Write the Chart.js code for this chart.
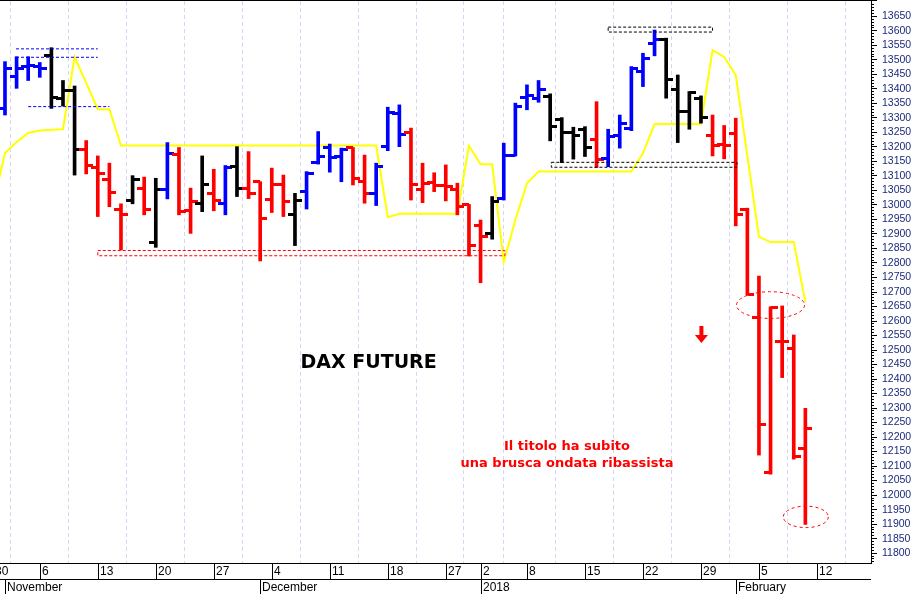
<!DOCTYPE html>
<html>
<head>
<meta charset="utf-8">
<title>DAX FUTURE</title>
<script src="https://cdn.jsdelivr.net/npm/chart.js@4.4.1/dist/chart.umd.min.js"></script>
<style>
html,body{margin:0;padding:0;background:#ffffff;overflow:hidden;}
canvas{display:block;}
</style>
</head>
<body>
<canvas id="chart" width="920" height="594"></canvas>
<script>
// ---------- DATA ----------
const tradingDays = [
 '2017-10-30',
 '2017-11-01','2017-11-02','2017-11-03',
 '2017-11-06','2017-11-07','2017-11-08','2017-11-09','2017-11-10',
 '2017-11-13','2017-11-14','2017-11-15','2017-11-16','2017-11-17',
 '2017-11-20','2017-11-21','2017-11-22','2017-11-23','2017-11-24',
 '2017-11-27','2017-11-28','2017-11-29','2017-11-30','2017-12-01',
 '2017-12-04','2017-12-05','2017-12-06','2017-12-07','2017-12-08',
 '2017-12-11','2017-12-12','2017-12-13','2017-12-14','2017-12-15',
 '2017-12-18','2017-12-19','2017-12-20','2017-12-21','2017-12-22',
 '2017-12-27','2017-12-28','2017-12-29',
 '2018-01-02','2018-01-03','2018-01-04','2018-01-05',
 '2018-01-08','2018-01-09','2018-01-10','2018-01-11','2018-01-12',
 '2018-01-15','2018-01-16','2018-01-17','2018-01-18','2018-01-19',
 '2018-01-22','2018-01-23','2018-01-24','2018-01-25','2018-01-26',
 '2018-01-29','2018-01-30','2018-01-31','2018-02-01','2018-02-02',
 '2018-02-05','2018-02-06','2018-02-07','2018-02-08','2018-02-09',
 '2018-02-12','2018-02-13','2018-02-14','2018-02-15','2018-02-16'
];

const openVals = [null,
 13333,13442,13476,13476,13514,13368,13394,13192,13130,13089,
 12985,13017,13058,12871,13055,13175,12980,13006,13040,13004,
 13132,13058,13080,13020,13069,12968,13046,13148,13198,13167,
 13198,13080,13040,13201,13316,13249,13054,13077,13066,13054,
 13000,12928,12902,13021,13172,13371,13366,13373,13293,13249,
 13261,13227,13159,13238,13265,13460,13555,13571,13399,13322,
 13368,13241,13207,13247,12985,12613,12077,12531,12504,12161,
 null,null,null,null,null];

const highVals = [null,
 13494,13511,13511,13491,13542,13429,13410,13222,13169,13144,
 13004,13101,13096,13092,13215,13198,13058,13169,13123,13136,
 13201,13184,13080,13127,13103,13040,13115,13253,13210,13196,
 13198,13172,13144,13337,13345,13265,13144,13111,13138,13075,
 13002,12948,13029,13213,13351,13414,13429,13383,13301,13268,
 13270,13356,13261,13310,13477,13523,13603,13575,13448,13391,
 13376,13310,13274,13299,12989,12755,12649,12652,12552,12299,
 null,null,null,null,null];

const lowVals = [null,
 13310,13402,13429,13440,13333,13341,13103,13107,12960,12994,
 12845,13004,12966,12854,13021,12966,12902,12977,12980,12966,
 13029,13022,12807,12974,12960,12860,12986,13141,13113,13080,
 13069,13006,12998,13187,13201,13017,13008,13046,13014,12966,
 12824,12732,12882,13017,13169,13328,13354,13221,13146,13158,
 13167,13129,13132,13196,13256,13408,13514,13368,13215,13261,
 13282,13169,13159,12928,12690,12138,12072,12405,12124,11899,
 null,null,null,null,null];

const closeVals = [null,
 13471,13471,13479,13472,13371,13394,13192,13135,13109,13044,
 12966,13089,12983,13055,13176,12977,13011,13071,13015,13129,
 13058,13038,12954,13069,13011,13017,13107,13166,13165,13192,
 13090,13040,13132,13320,13244,13069,13075,13066,13064,12993,
 12859,12891,13011,13172,13341,13376,13399,13272,13249,13238,
 13198,13155,13236,13282,13471,13506,13569,13433,13322,13386,
 13302,13204,13205,12966,12693,12244,12647,12528,12132,12228,
 null,null,null,null,null];

// trend state of each bar: B = rialzo (blu), K = neutro (nero), R = ribasso (rosso)
const trendState = [null,
 'B','B','B','B','K','K','K','R','R','R',
 'R','K','R','K','B','R','R','K','R','B',
 'K','R','R','R','R','K','B','B','B','B',
 'R','R','B','B','B','R','R','R','R','R',
 'R','R','K','B','B','B','B','K','K','K',
 'K','R','B','B','B','B','B','K','K','K',
 'K','R','R','R','R','R','R','R','R','R',
 null,null,null,null,null];

const trendLine = [13004,
 13179,13217,13248,13257,13259,13261,13510,13421,13330,13330,
 13205,13205,13205,13205,13205,13205,13205,13205,13205,13205,
 13205,13205,13205,13205,13205,13205,13205,13205,13205,13205,
 13205,13205,13205,12958,12970,12970,12970,12970,12970,12970,
 13204,13140,13140,12804,12948,13075,13115,13115,13115,13115,
 13115,13115,13115,13115,13115,13178,13279,13279,13279,13279,
 13279,13534,13510,13448,13169,12890,12872,12872,12872,12666,
 null,null,null,null,null];

const yTicks = [11800,11850,11900,11950,12000,12050,12100,12150,12200,12250,
 12300,12350,12400,12450,12500,12550,12600,12650,12700,12750,
 12800,12850,12900,12950,13000,13050,13100,13150,13200,13250,
 13300,13350,13400,13450,13500,13550,13600,13650];

const weekTickLabels = ['30','6','13','20','27','4','11','18','27','2','8','15','22','29','5','12'];
const monthTickLabels = ['November','December','2018','February'];

// levels drawn on the chart (from index, to index, upper level, lower level)
const resistanceBox = [9.0, 44.1, 12843, 12825];
const topBox = [53.0, 62.0, 13613, 13596];
const supportBox = [48.1, 64.1, 13147, 13130];
const blueLevels = [[1.95, 9.0, 13538], [1.95, 9.0, 13509], [3.0, 10.0, 13339]];

const ellipseMarks = [
  {at: 67.0, level: 12655, halfSpan: 2.93, halfRange: 46},
  {at: 70.04, level: 11925, halfSpan: 1.94, halfRange: 37}
];
const arrowMark = {at: 61.04, from: 12583, to: 12524};
const textNotes = [
  {text: 'DAX FUTURE', at: 32.35, level: 12437, kind: 'title'},
  {text: 'Il titolo ha subito', at: 49.45, level: 12155, kind: 'note'},
  {text: 'una brusca ondata ribassista', at: 49.45, level: 12098, kind: 'note'}
];

// ---------- DERIVED ----------
function dayParts(s) { const p = s.split('-').map(Number); return {y: p[0], m: p[1], d: p[2], wd: new Date(Date.UTC(p[0], p[1]-1, p[2])).getUTCDay()}; }
const parts = tradingDays.map(dayParts);
const weekStarts = [];
const monthStarts = [];
parts.forEach((p, i) => {
  if (i === 0 || p.wd < parts[i-1].wd) weekStarts.push(i);
  if (i > 0 && p.m !== parts[i-1].m) monthStarts.push(i);
});

const COLORS = {B: '#0000ff', K: '#000000', R: '#ff0000'};
function tickImage(color, side) {
  const c = document.createElement('canvas');
  c.width = 14; c.height = 3;
  const g = c.getContext('2d');
  g.fillStyle = color;
  g.fillRect(side === 'L' ? 0 : 7, 0, 7, 3);
  return c;
}
const tickImgs = {};
Object.keys(COLORS).forEach(k => { tickImgs[k] = {L: tickImage(COLORS[k], 'L'), R: tickImage(COLORS[k], 'R')}; });

const barData = [], openData = [], closeData = [];
tradingDays.forEach((d, i) => {
  if (highVals[i] == null) return;
  barData.push({x: i, y: [lowVals[i], highVals[i]], t: trendState[i]});
  openData.push({x: i, y: openVals[i], t: trendState[i]});
  closeData.push({x: i, y: closeVals[i], t: trendState[i]});
});
const trendData = [];
trendLine.forEach((v, i) => { if (v != null) trendData.push({x: i, y: v}); });

function boxPath(b) {
  return [{x: b[0], y: b[2]}, {x: b[1], y: b[2]}, {x: b[1], y: b[3]}, {x: b[0], y: b[3]}, {x: b[0], y: b[2]}];
}
function dashed(data, color) {
  return {type: 'line', data: data, borderColor: color, borderWidth: 1, borderDash: [3, 2],
          pointRadius: 0, fill: false, tension: 0, order: 0};
}

const X_MIN = 0.57, X_MAX = 75.66, Y_MIN = 11766, Y_MAX = 13703;

// ---------- PLUGINS ----------
const axisChrome = {
  id: 'axisChrome',
  afterDraw(chart) {
    const {ctx, chartArea: a, scales: {x, y}} = chart;
    ctx.save();
    ctx.fillStyle = '#000000';
    ctx.fillRect(0, 0, a.right + 6, 1);
    ctx.fillRect(0, a.bottom, a.right, 1);
    ctx.fillRect(0, a.bottom + 16, a.right, 1);
    for (let v = Math.ceil(Y_MIN / 10) * 10; v <= Y_MAX; v += 10) {
      if (v % 50 === 0) continue;
      const py = Math.floor(y.getPixelForValue(v));
      ctx.fillRect(a.right, py, 3, 1);
    }
    ctx.font = '12px "Liberation Sans", Arial, sans-serif';
    ctx.textAlign = 'left';
    ctx.textBaseline = 'middle';
    weekStarts.forEach((idx, n) => {
      const px = Math.round(x.getPixelForValue(idx));
      ctx.fillRect(px, a.bottom, 1, 16);
      ctx.fillText(weekTickLabels[n], px + 2, a.bottom + 9);
    });
    monthStarts.forEach((idx, n) => {
      const px = Math.round(x.getPixelForValue(idx));
      ctx.fillRect(px, a.bottom + 16, 1, 15);
      ctx.fillText(monthTickLabels[n], px + 2, a.bottom + 25);
    });
    ctx.restore();
  }
};

const annotate = {
  id: 'annotate',
  afterDatasetsDraw(chart) {
    const {ctx, scales: {x, y}} = chart;
    ctx.save();
    ctx.strokeStyle = '#ff0000';
    ctx.lineWidth = 1;
    ctx.setLineDash([3, 3]);
    ellipseMarks.forEach(e => {
      const cx = x.getPixelForValue(e.at), cy = y.getPixelForValue(e.level);
      const rx = Math.abs(x.getPixelForValue(e.at + e.halfSpan) - cx);
      const ry = Math.abs(y.getPixelForValue(e.level + e.halfRange) - cy);
      ctx.beginPath();
      ctx.ellipse(cx, cy, rx, ry, 0, 0, Math.PI * 2);
      ctx.stroke();
    });
    ctx.setLineDash([]);
    const ax = x.getPixelForValue(arrowMark.at);
    const ay1 = y.getPixelForValue(arrowMark.from), ay2 = y.getPixelForValue(arrowMark.to);
    ctx.fillStyle = '#ff0000';
    ctx.fillRect(ax - 2, ay1, 4, (ay2 - ay1) - 7);
    ctx.beginPath();
    ctx.moveTo(ax - 6.5, ay2 - 8);
    ctx.lineTo(ax + 6.5, ay2 - 8);
    ctx.lineTo(ax, ay2);
    ctx.closePath();
    ctx.fill();
    ctx.textAlign = 'center';
    ctx.textBaseline = 'alphabetic';
    textNotes.forEach(t => {
      if (t.kind === 'title') {
        ctx.font = 'bold 19px "DejaVu Sans", Verdana, sans-serif';
        ctx.fillStyle = '#000000';
      } else {
        ctx.font = 'bold 13px "DejaVu Sans", Verdana, sans-serif';
        ctx.fillStyle = '#ff0000';
      }
      ctx.fillText(t.text, x.getPixelForValue(t.at), y.getPixelForValue(t.level));
    });
    ctx.restore();
  }
};

// ---------- CHART ----------
new Chart(document.getElementById('chart'), {
  type: 'bar',
  data: {
    datasets: [
      dashed(boxPath(resistanceBox), '#ff0000'),
      dashed(boxPath(topBox), '#000000'),
      dashed(boxPath(supportBox), '#000000'),
      ...blueLevels.map(l => dashed([{x: l[0], y: l[2]}, {x: l[1], y: l[2]}], '#0000ff')),
      {type: 'scatter', data: openData, pointStyle: c => tickImgs[c.raw.t].L, pointRadius: 2,
       pointRotation: 0, showLine: false, order: 1},
      {type: 'scatter', data: closeData, pointStyle: c => tickImgs[c.raw.t].R, pointRadius: 2,
       pointRotation: 0, showLine: false, order: 1},
      {type: 'bar', data: barData, backgroundColor: c => COLORS[c.raw.t], borderWidth: 0,
       barThickness: 3, order: 2},
      {type: 'line', data: trendData, borderColor: '#ffff00', borderWidth: 2, pointRadius: 0,
       tension: 0, fill: false, order: 3}
    ]
  },
  options: {
    responsive: false,
    maintainAspectRatio: false,
    devicePixelRatio: 1,
    animation: false,
    events: [],
    layout: {autoPadding: false, padding: {top: 1, left: 0, right: 0, bottom: 0}},
    plugins: {legend: {display: false}, tooltip: {enabled: false}},
    scales: {
      x: {
        type: 'linear', min: X_MIN, max: X_MAX, offset: false,
        afterBuildTicks: s => { s.ticks = weekStarts.filter(i => i >= X_MIN).map(v => ({value: v})); },
        ticks: {display: false},
        grid: {display: true, drawOnChartArea: true, drawTicks: false, color: '#d6d6f2', lineWidth: 1},
        border: {display: false, dash: [4, 3]},
        afterFit: s => { s.height = 31; s.paddingLeft = 0; s.paddingRight = 0; }
      },
      y: {
        type: 'linear', position: 'right', min: Y_MIN, max: Y_MAX,
        afterBuildTicks: s => { s.ticks = yTicks.map(v => ({value: v})); },
        ticks: {autoSkip: false, color: '#1b2a7a', padding: 5,
                font: {family: '"Liberation Sans", Arial, sans-serif', size: 10.5},
                callback: v => String(v)},
        grid: {drawOnChartArea: false, drawTicks: true, tickLength: 6, tickColor: '#000000', tickWidth: 1},
        border: {display: true, color: '#000000', width: 1},
        afterFit: s => { s.width = 49; s.paddingTop = 0; s.paddingBottom = 0; }
      }
    }
  },
  plugins: [annotate, axisChrome]
});
</script>
</body>
</html>
